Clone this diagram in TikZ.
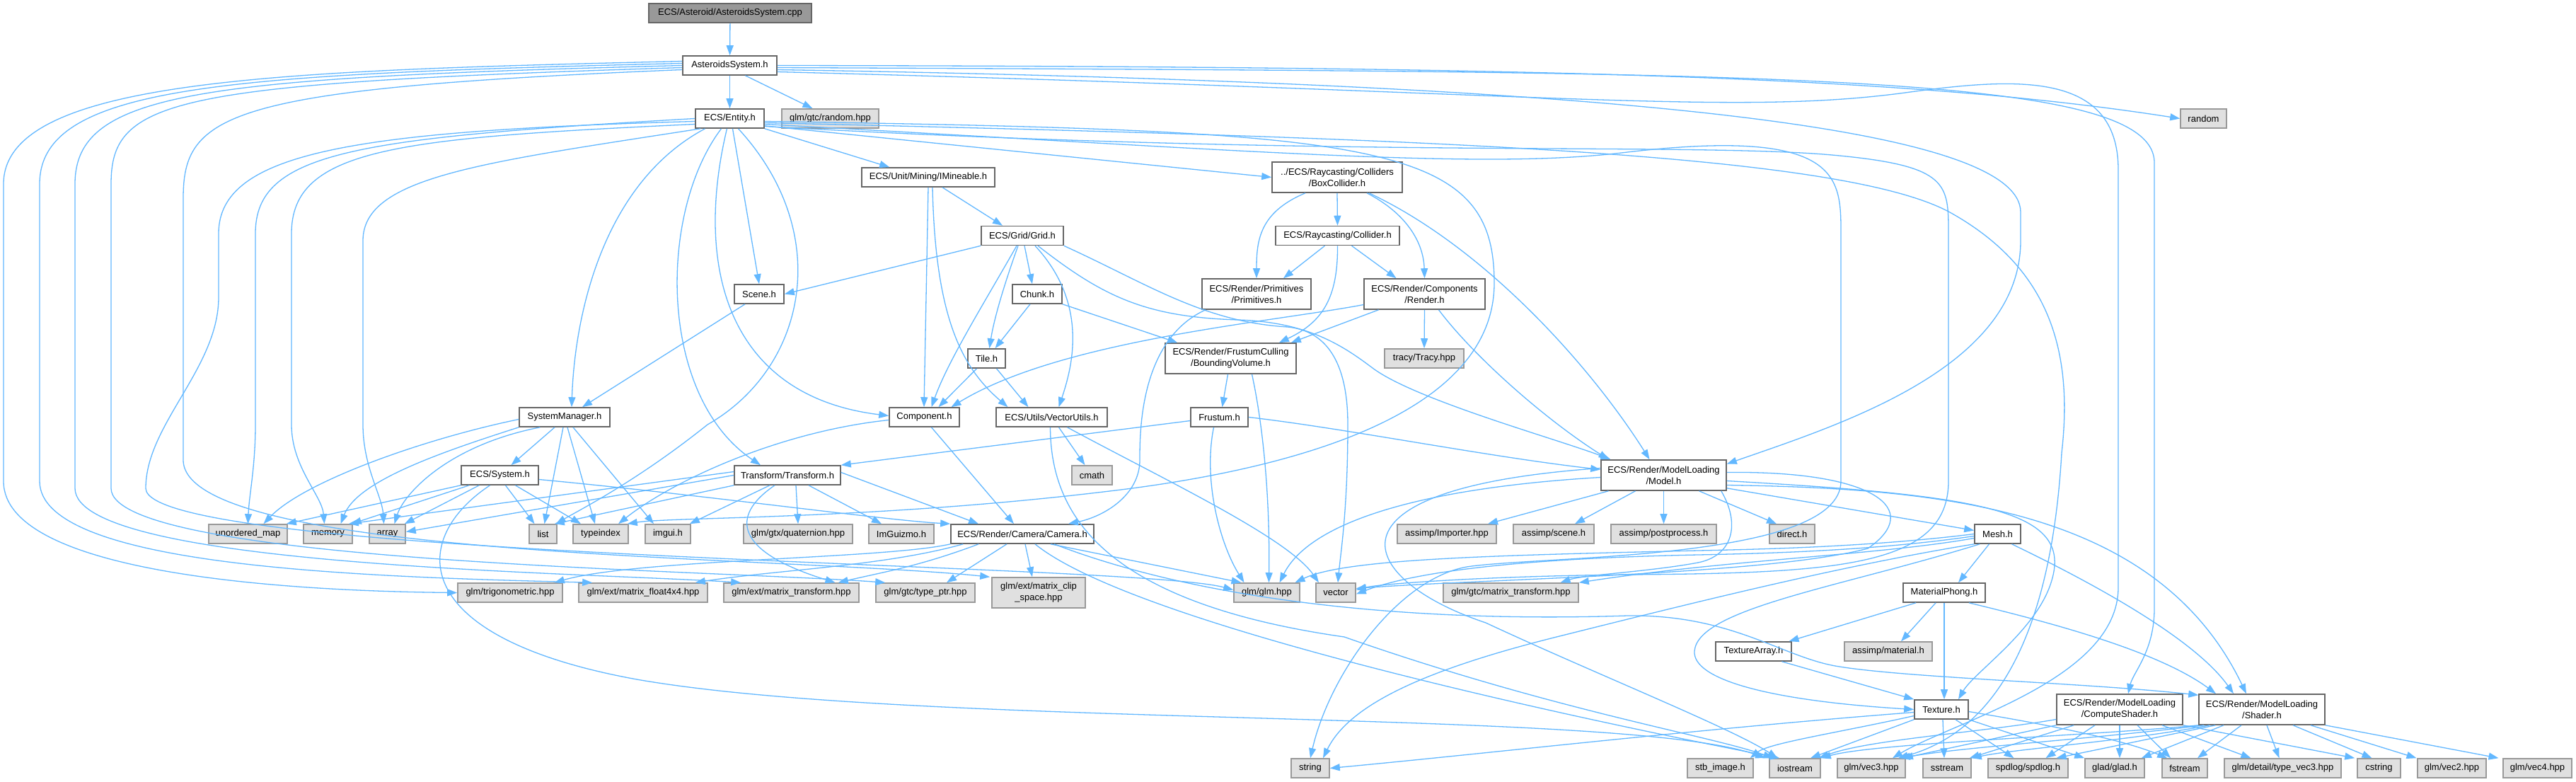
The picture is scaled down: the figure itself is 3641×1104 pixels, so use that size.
\documentclass[tikz,border=0pt]{standalone}
\usepackage{fontspec}
\setmainfont{Liberation Sans}
\usetikzlibrary{arrows.meta}
\definecolor{edgecol}{HTML}{63B8FF}
\definecolor{docborder}{HTML}{666666}
\definecolor{extborder}{HTML}{999999}
\definecolor{extfill}{HTML}{E0E0E0}
\definecolor{rootfill}{HTML}{999999}
\tikzset{
  base/.style={rectangle, inner sep=0pt, line width=1.6pt, align=center,
    font=\fontsize{13}{16}\selectfont, text=black},
  doc/.style={base, draw=docborder, fill=white},
  ext/.style={base, draw=extborder, fill=extfill},
  rootnode/.style={base, draw=docborder, fill=rootfill},
  dep/.style={draw=edgecol, line width=1.3pt, -{Triangle[length=14pt,width=10pt]}},
}
\begin{document}
\begin{tikzpicture}[x=1pt,y=-1pt]
\fill[white] (0,0) rectangle (3641,1104);
\useasboundingbox (0,0) rectangle (3641,1104);

% ---------------- nodes ----------------
\node[rootnode, minimum width=230, minimum height=27] (cpp) at (1032,18.5) {ECS/Asteroid/AsteroidsSystem.cpp};
\node[doc, minimum width=133, minimum height=27] (ash) at (1031.5,92.5) {AsteroidsSystem.h};
\node[doc, minimum width=97, minimum height=27] (ent) at (1031.5,167.5) {ECS/Entity.h};
\node[ext, minimum width=137, minimum height=27] (rhpp) at (1173.5,167.5) {glm/gtc/random.hpp};
\node[ext, minimum width=65, minimum height=27] (random) at (3114.5,167.5) {random};
\node[doc, minimum width=188, minimum height=27] (mine) at (1312,250.5) {ECS/Unit/Mining/IMineable.h};
\node[doc, minimum width=184, minimum height=43] (box) at (1890,250.5) {../ECS/Raycasting/Colliders\\/BoxCollider.h};
\node[doc, minimum width=116, minimum height=27] (grid) at (1445,333) {ECS/Grid/Grid.h};
\node[doc, minimum width=175, minimum height=27] (coll) at (1890.5,333) {ECS/Raycasting/Collider.h};
\node[doc, minimum width=70, minimum height=27] (scene) at (1073,415.5) {Scene.h};
\node[doc, minimum width=70, minimum height=27] (chunk) at (1466,415.5) {Chunk.h};
\node[doc, minimum width=154, minimum height=43] (prim) at (1776,415.5) {ECS/Render/Primitives\\/Primitives.h};
\node[doc, minimum width=171, minimum height=43] (render) at (2013.5,415.5) {ECS/Render/Components\\/Render.h};
\node[doc, minimum width=53, minimum height=27] (tile) at (1394.5,506.5) {Tile.h};
\node[doc, minimum width=185, minimum height=43] (bv) at (1739.5,506.5) {ECS/Render/FrustumCulling\\/BoundingVolume.h};
\node[ext, minimum width=112, minimum height=27] (tracy) at (2013,506.5) {tracy/Tracy.hpp};
\node[doc, minimum width=128, minimum height=27] (sysman) at (798,589.5) {SystemManager.h};
\node[doc, minimum width=99, minimum height=27] (comp) at (1306.5,589.5) {Component.h};
\node[doc, minimum width=157, minimum height=27] (vu) at (1486.5,589.5) {ECS/Utils/VectorUtils.h};
\node[doc, minimum width=81, minimum height=27] (frustum) at (1723.5,589.5) {Frustum.h};
\node[doc, minimum width=109, minimum height=27] (system) at (706.5,671.5) {ECS/System.h};
\node[doc, minimum width=150, minimum height=27] (transform) at (1113,671.5) {Transform/Transform.h};
\node[ext, minimum width=57, minimum height=27] (cmath) at (1543.5,671.5) {cmath};
\node[doc, minimum width=177, minimum height=43] (model) at (2351.5,671.5) {ECS/Render/ModelLoading\\/Model.h};
\node[ext, minimum width=111, minimum height=27] (umap) at (350.5,754.5) {unordered\_map};
\node[ext, minimum width=69, minimum height=27] (memory) at (463.5,754.5) {memory};
\node[ext, minimum width=51, minimum height=27] (array) at (547.5,754.5) {array};
\node[ext, minimum width=39, minimum height=27] (list) at (767.5,754.5) {list};
\node[ext, minimum width=78, minimum height=27] (typeindex) at (849,754.5) {typeindex};
\node[ext, minimum width=64, minimum height=27] (imgui) at (944,754.5) {imgui.h};
\node[ext, minimum width=154, minimum height=27] (quat) at (1128,754.5) {glm/gtx/quaternion.hpp};
\node[ext, minimum width=92, minimum height=27] (imguizmo) at (1274,754.5) {ImGuizmo.h};
\node[doc, minimum width=202, minimum height=27] (camera) at (1445,754.5) {ECS/Render/Camera/Camera.h};
\node[ext, minimum width=140, minimum height=27] (importer) at (2045,754.5) {assimp/Importer.hpp};
\node[ext, minimum width=114, minimum height=27] (ascene) at (2196,754.5) {assimp/scene.h};
\node[ext, minimum width=149, minimum height=27] (postproc) at (2351.5,754.5) {assimp/postprocess.h};
\node[ext, minimum width=64, minimum height=27] (direct) at (2533,754.5) {direct.h};
\node[doc, minimum width=65, minimum height=27] (mesh) at (2823.5,754.5) {Mesh.h};
\node[ext, minimum width=148, minimum height=27] (trig) at (721,837.5) {glm/trigonometric.hpp};
\node[ext, minimum width=182, minimum height=27] (f4x4) at (909,837.5) {glm/ext/matrix\_float4x4.hpp};
\node[ext, minimum width=191, minimum height=27] (mtrans) at (1118.5,837.5) {glm/ext/matrix\_transform.hpp};
\node[ext, minimum width=140, minimum height=27] (typeptr) at (1308,837.5) {glm/gtc/type\_ptr.hpp};
\node[ext, minimum width=132, minimum height=43] (clip) at (1468,837.5) {glm/ext/matrix\_clip\\\_space.hpp};
\node[ext, minimum width=93, minimum height=27] (glm) at (1790.5,837.5) {glm/glm.hpp};
\node[ext, minimum width=56, minimum height=27] (vector) at (1888,837.5) {vector};
\node[ext, minimum width=191, minimum height=27] (gmt) at (2135.5,837.5) {glm/gtc/matrix\_transform.hpp};
\node[doc, minimum width=116, minimum height=27] (phong) at (2748,837.5) {MaterialPhong.h};
\node[doc, minimum width=107, minimum height=27] (texarr) at (2478.5,920.5) {TextureArray.h};
\node[ext, minimum width=124, minimum height=27] (amat) at (2669,920.5) {assimp/material.h};
\node[doc, minimum width=76, minimum height=27] (texture) at (2744,1002.5) {Texture.h};
\node[doc, minimum width=178, minimum height=43] (compute) at (2996,1002.5) {ECS/Render/ModelLoading\\/ComputeShader.h};
\node[doc, minimum width=178, minimum height=43] (shader) at (3197,1002.5) {ECS/Render/ModelLoading\\/Shader.h};
\node[ext, minimum width=54, minimum height=27] (string) at (1852,1085.5) {string};
\node[ext, minimum width=93, minimum height=27] (stb) at (2431.5,1085.5) {stb\_image.h};
\node[ext, minimum width=72, minimum height=27] (iostream) at (2537,1085.5) {iostream};
\node[ext, minimum width=96, minimum height=27] (vec3) at (2645,1085.5) {glm/vec3.hpp};
\node[ext, minimum width=68, minimum height=27] (sstream) at (2752,1085.5) {sstream};
\node[ext, minimum width=113, minimum height=27] (spdlog) at (2866.5,1085.5) {spdlog/spdlog.h};
\node[ext, minimum width=84, minimum height=27] (glad) at (2989,1085.5) {glad/glad.h};
\node[ext, minimum width=64, minimum height=27] (fstream) at (3088,1085.5) {fstream};
\node[ext, minimum width=165, minimum height=27] (tvec3) at (3226.5,1085.5) {glm/detail/type\_vec3.hpp};
\node[ext, minimum width=61, minimum height=27] (cstring) at (3362.5,1085.5) {cstring};
\node[ext, minimum width=97, minimum height=27] (vec2) at (3465.5,1085.5) {glm/vec2.hpp};
\node[ext, minimum width=97, minimum height=27] (vec4) at (3586.5,1085.5) {glm/vec4.hpp};

% ---------------- edges ----------------
% root
\draw[dep] (cpp) -- (ash);
% AsteroidsSystem.h
\draw[dep] (ash) -- (ent);
\draw[dep] ([xshift=22]ash.south) -- ([xshift=-25]rhpp.north);
\draw[dep] (ash.east) .. controls (2200,94) and (2700,108) .. (random.west);
\draw[dep] ([yshift=-3]ash.east) .. controls (2500,102) and (3045,100) .. (3045,230) -- (3045,860) .. controls (3045,920) and (3015,950) .. ([xshift=12]compute.north);
\draw[dep] ([yshift=-6]ash.east) .. controls (2300,118) and (2856,180) .. (2856,300) -- (2856,340) .. controls (2856,520) and (2600,600) .. ([yshift=16]model.east);
\draw[dep] ([yshift=-9]ash.east) .. controls (2200,130) and (2450,165) .. (2700,130) .. controls (2850,110) and (2994,100) .. (2994,240) -- (2994,830) .. controls (2994,960) and (2760,1020) .. ([xshift=30]vec3.north);
\draw[dep] ([yshift=6]ash.west) .. controls (400,100) and (5,110) .. (5,260) -- (5,680) .. controls (5,810) and (400,835) .. (trig.west);
\draw[dep] ([yshift=3]ash.west) .. controls (320,105) and (56,120) .. (56,260) -- (56,680) .. controls (56,800) and (500,815) .. ([xshift=20]f4x4.north west);
\draw[dep] (ash.west) .. controls (280,110) and (106,130) .. (106,260) -- (106,690) .. controls (106,800) and (800,808) .. ([xshift=25]mtrans.north west);
\draw[dep] ([yshift=-3]ash.west) .. controls (240,118) and (157,140) .. (157,260) -- (157,690) .. controls (157,795) and (1000,805) .. ([xshift=14]typeptr.north west);
\draw[dep] ([yshift=-6]ash.west) .. controls (320,125) and (259,160) .. (259,280) -- (259,650) .. controls (259,790) and (1100,785) .. ([xshift=-2]clip.north west);
% ECS/Entity.h
\draw[dep] ([yshift=-4]ent.west) .. controls (500,185) and (309,215) .. (309,330) -- (309,420) .. controls (309,520) and (206,600) .. (206,690) .. controls (206,790) and (1600,795) .. ([yshift=4]glm.west);
\draw[dep] (ent.west) .. controls (500,195) and (361,215) .. (361,330) -- (361,600) .. controls (361,660) and (352,700) .. (umap.north);
\draw[dep] ([yshift=-8]ent.west) .. controls (560,195) and (412,210) .. (412,330) -- (412,600) .. controls (412,660) and (455,700) .. ([xshift=-5]memory.north);
\draw[dep] ([xshift=8]ent.south west) .. controls (680,230) and (513,250) .. (513,340) -- (513,600) .. controls (513,660) and (540,700) .. ([xshift=-5]array.north);
\draw[dep] ([xshift=-35]ent.south) .. controls (850,260) and (812,450) .. ([xshift=10]sysman.north);
\draw[dep] ([xshift=-12]ent.south) .. controls (930,300) and (930,560) .. ([xshift=-38]transform.north);
\draw[dep] ([xshift=-4]ent.south) .. controls (980,380) and (1030,560) .. ([yshift=2]comp.west);
\draw[dep] ([xshift=4]ent.south) -- (scene.north);
\draw[dep] ([xshift=12]ent.south) .. controls (1180,330) and (1140,520) .. (1000,600) .. controls (900,680) and (820,720) .. ([xshift=-2]list.north east);
\draw[dep] (ent.south east) -- ([xshift=40]mine.north west);
\draw[dep] ([yshift=4]ent.south east) -- (box.west);
\draw[dep] ([yshift=-4]ent.east) .. controls (1950,185) and (2112,200) .. (2112,400) .. controls (2112,560) and (1900,650) .. (1600,690) .. controls (1250,735) and (950,730) .. ([xshift=-2]typeindex.north east);
\draw[dep] ([yshift=-8]ent.east) .. controls (1800,215) and (2100,240) .. (2300,215) .. controls (2602,180) and (2602,250) .. (2602,330) -- (2602,680) .. controls (2602,790) and (2200,785) .. (2080,800) .. controls (1980,812) and (1880,950) .. (string.north);
\draw[dep] ([yshift=-11]ent.east) .. controls (1900,225) and (2400,200) .. (2600,220) .. controls (2754,235) and (2754,260) .. (2754,330) -- (2754,680) .. controls (2754,800) and (2600,810) .. (2300,812) .. controls (2100,814) and (1950,825) .. ([yshift=4]vector.east);
\draw[dep] ([yshift=-6]ent.east) .. controls (2000,195) and (2600,215) .. (2756,300) .. controls (2900,380) and (2930,500) .. (2914,640) .. controls (2900,880) and (2830,1030) .. ([xshift=38]vec3.north);
% IMineable
\draw[dep] ([xshift=20]mine.south) -- ([xshift=-28]grid.north);
\draw[dep] (mine.south) -- ([xshift=-0.5]comp.north);
\draw[dep] ([xshift=6]mine.south) .. controls (1322,450) and (1360,520) .. ([xshift=-62]vu.north);
% Grid
\draw[dep] (grid.south west) -- (scene.east);
\draw[dep] ([xshift=3]grid.south) -- ([xshift=-7]chunk.north);
\draw[dep] ([xshift=-6]grid.south) .. controls (1420,400) and (1405,450) .. ([xshift=4]tile.north);
\draw[dep] ([xshift=-8]grid.south) .. controls (1390,430) and (1340,510) .. ([xshift=10]comp.north);
\draw[dep] ([xshift=18]grid.south) .. controls (1540,430) and (1515,520) .. ([xshift=10]vu.north);
\draw[dep] ([xshift=22]grid.south) .. controls (1560,420) and (1620,448) .. (1750,452) .. controls (1850,455) and (1900,490) .. (1940,520) .. controls (2000,565) and (2200,620) .. ([xshift=-75]model.north);
\draw[dep] (grid.south east) .. controls (1620,400) and (1700,455) .. (1820,462) .. controls (1880,468) and (1905,520) .. (1905,600) .. controls (1905,720) and (1895,780) .. ([xshift=3]vector.north);
% Chunk, Tile, Scene
\draw[dep] ([xshift=-10]chunk.south) -- ([xshift=12]tile.north);
\draw[dep] (chunk.south east) -- ([xshift=18]bv.north west);
\draw[dep] ([xshift=-14]tile.south) -- ([xshift=20]comp.north);
\draw[dep] ([xshift=14]tile.south) -- ([xshift=-33]vu.north);
\draw[dep] ([xshift=-20]scene.south) -- ([xshift=25]sysman.north);
% BoxCollider
\draw[dep] (box.south) -- (coll.north);
\draw[dep] ([xshift=-45]box.south) .. controls (1780,300) and (1776,340) .. (prim.north);
\draw[dep] ([xshift=42]box.south) .. controls (1985,300) and (2012,340) .. (render.north);
\draw[dep] ([xshift=45]box.south) .. controls (2100,350) and (2250,520) .. ([xshift=-20]model.north);
% Collider
\draw[dep] ([xshift=-18]coll.south) -- ([xshift=38]prim.north);
\draw[dep] ([xshift=20]coll.south) -- ([xshift=-40]render.north);
\draw[dep] (coll.south) .. controls (1891,420) and (1870,455) .. ([xshift=-25]bv.north east);
% Render
\draw[dep] (render.south) -- (tracy.north);
\draw[dep] ([xshift=-65]render.south) -- ([xshift=-8]bv.north east);
\draw[dep] ([yshift=-15]render.west) .. controls (1800,455) and (1500,480) .. ([xshift=38]comp.north);
\draw[dep] ([xshift=20]render.south) .. controls (2080,500) and (2180,590) .. ([xshift=-78]model.north);
% Primitives
\draw[dep] ([xshift=-72]prim.south) .. controls (1611,480) and (1611,610) .. (1611,650) .. controls (1611,700) and (1560,730) .. ([xshift=65]camera.north);
% BoundingVolume
\draw[dep] ([xshift=-4]bv.south) -- ([xshift=4]frustum.north);
\draw[dep] ([xshift=30]bv.south) .. controls (1785,600) and (1795,700) .. ([xshift=3]glm.north);
% Frustum
\draw[dep] ([yshift=-5]frustum.west) -- (transform.north east);
\draw[dep] (frustum.east) .. controls (1900,605) and (2100,645) .. ([yshift=8]model.west);
\draw[dep] ([xshift=-8]frustum.south) .. controls (1700,680) and (1725,770) .. ([xshift=-32]glm.north);
% SystemManager
\draw[dep] ([xshift=-14]sysman.south) -- ([xshift=16]system.north);
\draw[dep] ([xshift=-2]sysman.south) -- ([xshift=2]list.north);
\draw[dep] ([xshift=4]sysman.south) -- ([xshift=-8]typeindex.north);
\draw[dep] ([xshift=12]sysman.south) -- ([xshift=-20]imgui.north);
\draw[dep] ([yshift=-3]sysman.west) .. controls (600,620) and (430,680) .. ([xshift=22]umap.north);
\draw[dep] (sysman.south west) .. controls (620,640) and (505,680) .. ([xshift=18]memory.north);
\draw[dep] ([xshift=30]sysman.south west) .. controls (630,630) and (570,700) .. ([xshift=10]array.north);
% System
\draw[dep] (system.south west) -- ([xshift=-2]umap.north east);
\draw[dep] ([xshift=12]system.south west) -- ([xshift=-2]memory.north east);
\draw[dep] ([xshift=26]system.south west) -- ([xshift=-2]array.north east);
\draw[dep] ([xshift=8]system.south) -- ([xshift=-12]list.north);
\draw[dep] ([xshift=22]system.south) -- ([xshift=-28]typeindex.north);
\draw[dep] ([yshift=-6]system.east) .. controls (1000,700) and (1250,735) .. (camera.north west);
\draw[dep] ([xshift=-14]system.south) .. controls (580,760) and (570,900) .. (900,960) .. controls (1300,1030) and (2300,1000) .. ([xshift=-5]iostream.north west);
% Transform
\draw[dep] ([xshift=12]transform.south) -- (quat.north);
\draw[dep] ([xshift=30]transform.south) -- ([xshift=-28]imguizmo.north);
\draw[dep] ([xshift=-25]transform.south) -- ([xshift=-2]imgui.north east);
\draw[dep] (transform.south west) -- ([xshift=-4]list.north east);
\draw[dep] ([yshift=5]transform.west) -- ([xshift=-6]memory.north east);
\draw[dep] (transform.west) -- ([yshift=3]array.east);
\draw[dep] ([yshift=4]transform.east) -- ([xshift=-62]camera.north);
\draw[dep] ([xshift=-18]transform.south) .. controls (1030,730) and (1040,780) .. ([xshift=62]mtrans.north);
% Component
\draw[dep] ([yshift=-4]comp.west) .. controls (1100,610) and (950,680) .. ([xshift=25]typeindex.north);
\draw[dep] ([xshift=10]comp.south) -- ([xshift=-12]camera.north);
% VectorUtils
\draw[dep] ([xshift=10]vu.south) -- ([xshift=-10]cmath.north);
\draw[dep] ([xshift=22]vu.south) .. controls (1650,680) and (1820,760) .. ([xshift=-24]vector.north);
\draw[dep] ([xshift=-2]vu.south) .. controls (1485,720) and (1550,850) .. (1900,900) .. controls (2200,1005) and (2420,1040) .. ([xshift=6]iostream.north west);
% Camera
\draw[dep] ([xshift=-22]camera.south) -- ([xshift=30]typeptr.north);
\draw[dep] ([xshift=4]camera.south) -- ([xshift=-9]clip.north);
\draw[dep] ([xshift=40]camera.south) -- ([xshift=-36]glm.north);
\draw[dep] (camera.south west) .. controls (1250,790) and (900,790) .. ([xshift=-12]trig.north east);
\draw[dep] ([xshift=18]camera.south west) .. controls (1250,800) and (1100,805) .. ([xshift=-18]f4x4.north east);
\draw[dep] ([xshift=40]camera.south west) .. controls (1300,800) and (1250,808) .. ([xshift=-30]mtrans.north east);
\draw[dep] ([xshift=18]camera.south) .. controls (1600,880) and (2200,1010) .. ([xshift=15]iostream.north west);
\draw[dep] ([xshift=45]camera.south) .. controls (1700,850) and (2000,880) .. (2300,870) .. controls (2450,868) and (2520,930) .. (2600,942) .. controls (2700,958) and (2950,965) .. ([yshift=-2]shader.north west);
% Model
\draw[dep] ([xshift=-78]model.south) -- ([xshift=58]importer.north);
\draw[dep] ([xshift=-40]model.south) -- ([xshift=30]ascene.north);
\draw[dep] (model.south) -- (postproc.north);
\draw[dep] ([xshift=50]model.south) -- ([xshift=-22]direct.north);
\draw[dep] ([yshift=4]model.south east) -- ([yshift=5]mesh.west);
\draw[dep] ([yshift=-3]model.west) .. controls (2000,690) and (1850,740) .. ([xshift=18]glm.north);
\draw[dep] ([yshift=4]model.east) .. controls (2650,665) and (2720,720) .. (2640,775) .. controls (2500,812) and (2100,818) .. ([yshift=6]vector.east);
\draw[dep] ([xshift=-8]model.south east) .. controls (2460,740) and (2450,785) .. (2400,795) .. controls (2330,808) and (2240,812) .. ([xshift=70]gmt.north);
\draw[dep] ([yshift=10]model.west) .. controls (1850,690) and (1920,820) .. (2100,880) .. controls (2250,950) and (2450,1030) .. ([xshift=12]iostream.north west);
\draw[dep] ([yshift=-8]model.east) .. controls (2800,700) and (2930,720) .. (2900,820) .. controls (2880,890) and (2790,950) .. ([xshift=24]texture.north);
\draw[dep] ([yshift=-14]model.east) .. controls (2750,690) and (3050,720) .. ([xshift=-22]shader.north);
% Mesh
\draw[dep] ([xshift=-12]mesh.south) -- ([xshift=20]phong.north);
\draw[dep] ([xshift=20]mesh.south) .. controls (2950,820) and (3100,900) .. ([xshift=-40]shader.north);
\draw[dep] (mesh.west) .. controls (2650,772) and (2500,776) .. (2400,778) .. controls (2100,785) and (1900,790) .. ([xshift=40]glm.north);
\draw[dep] ([yshift=-3]mesh.west) .. controls (2650,778) and (2500,782) .. (2400,784) .. controls (2100,790) and (1980,815) .. ([yshift=-2]vector.east);
\draw[dep] ([yshift=-6]mesh.west) .. controls (2650,785) and (2450,790) .. (gmt.north east);
\draw[dep] (mesh.south west) .. controls (2600,800) and (2400,850) .. (2200,900) .. controls (2000,950) and (1905,1000) .. ([xshift=18]string.north);
\draw[dep] ([xshift=8]mesh.south west) .. controls (2600,830) and (2400,860) .. (2395,920) .. controls (2392,960) and (2500,990) .. (texture.west);
% MaterialPhong
\draw[dep] ([xshift=-40]phong.south) -- ([xshift=50]texarr.north);
\draw[dep] ([xshift=-12]phong.south) -- ([xshift=18]amat.north);
\draw[dep] (phong.south) -- ([xshift=4]texture.north);
\draw[dep] ([xshift=35]phong.south) .. controls (2900,880) and (3050,920) .. ([xshift=-65]shader.north);
% TextureArray
\draw[dep] ([xshift=40]texarr.south) -- (texture.north west);
% Texture
\draw[dep] ([yshift=-4]texture.west) .. controls (2400,1030) and (2100,1065) .. (string.east);
\draw[dep] ([yshift=-9]texture.west) .. controls (2600,1035) and (2500,1050) .. ([xshift=-5]stb.north east);
\draw[dep] (texture.south west) -- ([xshift=22]iostream.north);
\draw[dep] ([xshift=2]texture.south) -- ([xshift=-4]sstream.north);
\draw[dep] ([xshift=20]texture.south) -- ([xshift=-20]spdlog.north);
\draw[dep] (texture.south east) -- (glad.north west);
\draw[dep] ([yshift=-3]texture.east) .. controls (2900,1025) and (3000,1045) .. ([xshift=8]fstream.north west);
% ComputeShader
\draw[dep] ([yshift=-14]compute.west) .. controls (2800,1035) and (2640,1045) .. ([xshift=-3]iostream.north east);
\draw[dep] (compute.south west) -- ([xshift=-4]vec3.north east);
\draw[dep] ([xshift=25]compute.south west) -- ([xshift=-3]sstream.north east);
\draw[dep] ([xshift=-35]compute.south) -- ([xshift=25]spdlog.north);
\draw[dep] (compute.south) -- ([xshift=7]glad.north);
\draw[dep] ([xshift=25]compute.south) -- ([xshift=-20]fstream.north);
\draw[dep] ([xshift=60]compute.south) -- ([xshift=-45]tvec3.north);
\draw[dep] (compute.south east) -- ([xshift=-3]cstring.north west);
% Shader
\draw[dep] (shader.south west) .. controls (2950,1040) and (2650,1050) .. (iostream.north east);
\draw[dep] ([xshift=8]shader.south west) .. controls (2950,1045) and (2780,1055) .. ([xshift=-8]vec3.north east);
\draw[dep] ([xshift=16]shader.south west) .. controls (3000,1048) and (2850,1058) .. (sstream.north east);
\draw[dep] ([xshift=24]shader.south west) -- ([xshift=40]spdlog.north);
\draw[dep] ([xshift=-54]shader.south) -- ([xshift=-5]glad.north east);
\draw[dep] ([xshift=-29]shader.south) -- ([xshift=18]fstream.north);
\draw[dep] ([xshift=7]shader.south) -- ([xshift=-5]tvec3.north);
\draw[dep] ([xshift=44]shader.south) -- ([xshift=-10]cstring.north);
\draw[dep] ([xshift=69]shader.south) -- ([xshift=-50]vec2.north);
\draw[dep] (shader.south east) -- ([xshift=-55]vec4.north);
\end{tikzpicture}
\end{document}
